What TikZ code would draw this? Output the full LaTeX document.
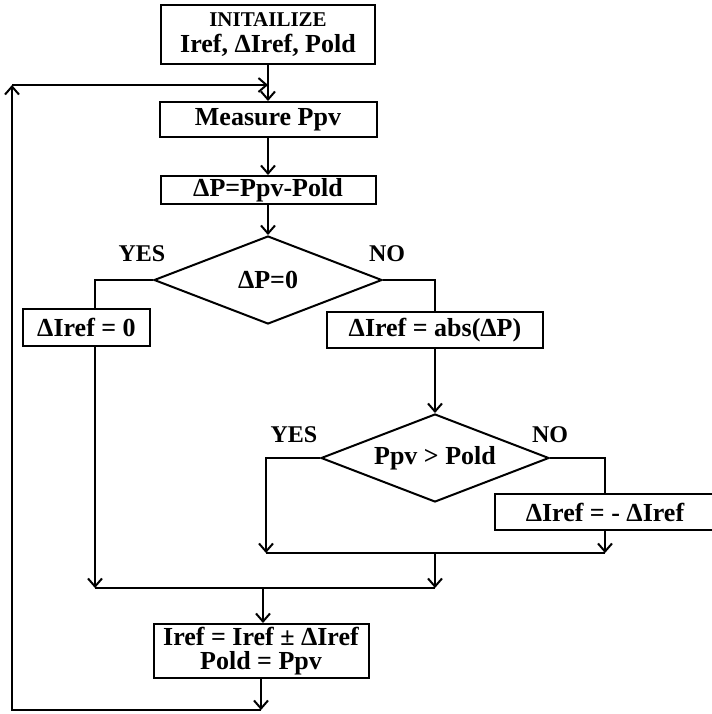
\documentclass[tikz,border=0pt]{standalone}
\usepackage{fontspec}
\setmainfont{Liberation Serif}
\usetikzlibrary{positioning,shapes,arrows.meta,calc}

\begin{document}
\begin{tikzpicture}[x=0.5pt, y=-0.5pt, line width=1pt,
    >={Straight Barb[length=4pt,width=7pt]},
    box/.style={draw, rectangle, inner sep=1pt, align=center,
      font=\bfseries\fontsize{13}{13}\selectfont},
    cond/.style={draw, diamond, aspect=2.6, inner sep=0pt,
      minimum width=114pt, minimum height=44pt,
      font=\bfseries\fontsize{13}{13}\selectfont},
    lbl/.style={font=\bfseries\fontsize{12}{12}\selectfont}]
    \useasboundingbox (0,0) rectangle (712,714);
    % Nodes
    \node [box, minimum width=107pt, minimum height=29.5pt] (init) at (268,34.5)
      {{\fontsize{10.5}{13}\selectfont INITAILIZE}\\Iref, ΔIref, Pold};
    \node [box, minimum width=108.5pt, minimum height=17.5pt, below=18pt of init] (meas) {Measure Ppv};
    \node [box, minimum width=107.5pt, minimum height=14pt, below=18.5pt of meas] (dp) {ΔP=Ppv-Pold};
    \node [cond, below=15pt of dp] (dia1) {ΔP=0};

    \node [box, minimum width=63.5pt, minimum height=18.5pt] (zero) at (86.5,327.5) {ΔIref = 0};
    \node [box, minimum width=108pt, minimum height=18pt] (abs) at (435,330) {ΔIref = abs(ΔP)};
    \node [cond] (dia2) at (435,458) {Ppv > Pold};
    \node [box, minimum width=110pt, minimum height=18pt] (neg) at (605,512) {ΔIref = - ΔIref};
    \node [box, minimum width=107.5pt, minimum height=27pt,
      font=\bfseries\fontsize{13}{12}\selectfont] (final) at (261,651)
      {Iref = Iref ± ΔIref\\Pold = Ppv};

    \node [lbl] (yes1) at ($(dia1.west)+(-11,-26)$) {YES};
    \node [lbl] (no1) at ($(dia1.east)+(4,-26)$) {NO};
    \node [lbl] (yes2) at ($(dia2.west)+(-26,-23)$) {YES};
    \node [lbl] (no2) at ($(dia2.east)+(0,-23)$) {NO};

    \coordinate (jl) at (266,553);
    \coordinate (jm) at (435,553);
    \coordinate (jr) at (605,553);
    \coordinate (kl) at (95,588);
    \coordinate (km) at (263,588);
    \coordinate (kr) at (435,588);
    \coordinate (lb) at (261,710);
    \coordinate (ltl) at (12,85);
    \coordinate (ltr) at (268,85);
    % Arrows
    \draw [->] (init) -- (meas);
    \draw [->] (meas) -- (dp);
    \draw [->] (dp) -- (dia1);
    \draw (dia1.west) -| ([xshift=4.25pt]zero.north);
    \draw (dia1.east) -| (abs.north);
    \draw [->] (abs) -- (dia2);
    \draw [->] (dia2.west) -| (jl);
    \draw (dia2.east) -| (neg.north);
    \draw [->] (neg) -- (jr);
    \draw (jl) -- (jr);
    \draw [->] (jm) -- (kr);
    \draw [->] ([xshift=4.25pt]zero.south) -- (kl);
    \draw (kl) -- (kr);
    \draw [->] (km) -- (final.north -| km);
    \draw [->] (final) -- (lb);
    \draw [->] (lb) -| (ltl);
    \draw [->] (ltl) -- (ltr);
  \end{tikzpicture}
\end{document}
